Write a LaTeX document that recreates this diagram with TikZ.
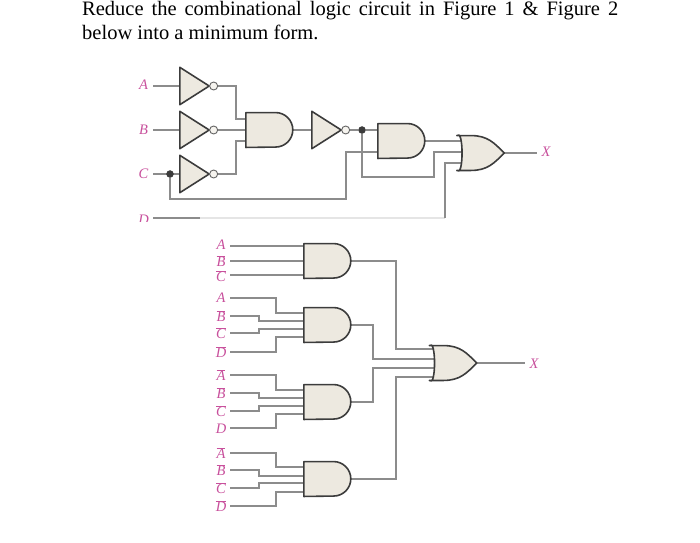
\documentclass[tikz,border=0pt]{standalone}
\usepackage{fontspec}
\setmainfont{Liberation Serif}
\usetikzlibrary{positioning, calc, backgrounds}

\definecolor{gatefill}{HTML}{EDE9E0}
\definecolor{gateedge}{HTML}{3C3C3C}
\definecolor{wiregray}{HTML}{8C8C8C}
\definecolor{labelpink}{HTML}{C8509C}

\tikzset{
  wire/.style={draw=wiregray, line width=1.2pt},
  faintwire/.style={draw=black!10, line width=1.2pt},
  sig/.style={text=labelpink, font=\fontsize{14.5}{14.5}\selectfont\itshape, inner sep=0pt},
  dot/.style={circle, fill=gateedge, draw=gateedge, minimum size=7pt, inner sep=0pt},
  bubble/.style={circle, fill=gatefill!50, draw=gateedge!80, line width=0.9pt, minimum size=8pt, inner sep=0pt},
  gatebox/.style={rectangle, inner sep=0pt, minimum width=#1, minimum height=34.5pt},
  andgate/.style={gatebox=47pt, append after command={\pgfextra{
    \draw[fill=gatefill, draw=gateedge, line width=1.6pt, line join=round]
      (\tikzlastnode.north west) -- ++(29.75pt,0) arc[start angle=90, end angle=-90, radius=17.25pt]
      -- (\tikzlastnode.south west) -- cycle;}}},
  orgate/.style={gatebox=47pt, append after command={\pgfextra{
    \draw[fill=gatefill, draw=gateedge, line width=1.6pt, line join=round]
      (\tikzlastnode.north west) -- ++(14pt,0)
      .. controls +(17pt,0) and +(-10pt,10pt) .. (\tikzlastnode.east)
      .. controls +(-10pt,-10pt) and +(17pt,0) .. ($(\tikzlastnode.south west)+(14pt,0)$)
      -- (\tikzlastnode.south west)
      .. controls +(7pt,-8pt) and +(7pt,8pt) .. cycle;}}},
  notgate/.style={rectangle, inner sep=0pt, minimum width=29pt, minimum height=37pt, append after command={\pgfextra{
    \draw[fill=gatefill, draw=gateedge, line width=1.6pt, line join=round]
      (\tikzlastnode.north west) -- (\tikzlastnode.east) -- (\tikzlastnode.south west) -- cycle;}}}
}

\newcommand{\nb}[1]{$\overline{\mbox{\itshape #1}}$}

\begin{document}
\begin{tikzpicture}[x=1pt, y=-1pt]
\useasboundingbox (0,0) rectangle (700,542);

% Question text
\node[anchor=north west, inner sep=0pt, text width=536pt, align=justify, font=\fontsize{20.5}{24}\selectfont] (question) at (82,1)
  {Reduce the combinational logic circuit in Figure 1 \& Figure 2\linebreak below into a minimum form.};

% Figure 1 labels
\node[sig] (inA) at (143.5,85) {A};
\node[sig] (inB) at (143.5,130) {B};
\node[sig] (inC) at (143.5,174) {C};
\begin{scope}
\clip (130,205) rectangle (160,221);
\node[sig] (inD) at (143.5,219.5) {D};
\end{scope}
\node[sig] (outX) at (546,152) {X};

% Figure 1 gates
\node[notgate] (notA) at (194.5,86) {};
\node[notgate] (notB) at (194.5,130) {};
\node[notgate] (notC) at (194.5,174) {};
\node[bubble, right=0pt of notA] (bubA) {};
\node[bubble, right=0pt of notB] (bubB) {};
\node[bubble, right=0pt of notC] (bubC) {};
\node[andgate] (andOne) at (269.5,130) {};
\node[notgate] (notOut) at (326.5,130) {};
\node[bubble, right=0pt of notOut] (bubOut) {};
\node[andgate] (andTwo) at (401.5,141) {};
\node[orgate] (orOne) at (480.5,153) {};
\node[dot] (dotC) at (170,174) {};
\node[dot] (dotOut) at (362,130) {};
\coordinate (endD) at (445,218);

% Figure 1 wires
\begin{scope}[on background layer]
\draw[wire] (153,86) -- (notA.west);
\draw[wire] (153,130) -- (notB.west);
\draw[wire] (153,174) -- (notC.west);
\draw[wire] (bubA) -| (236,119) -- (250,119);
\draw[wire] (bubB) -- (andOne.center);
\draw[wire] (bubC) -| (236,141) -- (250,141);
\draw[wire] (andOne.center) -- (notOut.center);
\draw[wire] (bubOut) -- (dotOut) -- (andTwo.west |- dotOut);
\draw[wire] (dotC) |- (346,199) |- (andTwo.center |- 0,152);
\draw[wire] (andTwo.center) -- (orOne.center |- andTwo.center);
\draw[wire] (dotOut) |- (434,177) |- (orOne.center |- 0,152);
\draw[faintwire] (200,218) -- (endD);
\draw[wire] (153,218) -- (200,218);
\draw[wire] (endD) |- (orOne.center |- 0,163);
\draw[wire] (orOne.center) -- (537,153);
\end{scope}

% Figure 2 labels
\foreach \nm/\yy/\txt in {a/245/A, b/261/\nb{B}, c/276/\nb{C},
    d/298/A, e/316/\nb{B}, f/333/\nb{C}, g/352/\nb{D},
    h/375/\nb{A}, i/393/\nb{B}, j/411/\nb{C}, k/429/D,
    l/453/\nb{A}, m/470/\nb{B}, n/488/\nb{C}, o/506/\nb{D}}
  \node[sig] (in\nm) at (221,\yy) {\txt};
\node[sig] (outY) at (534,364) {X};

% Figure 2 gates
\node[andgate] (andA) at (327.5,261) {};
\node[andgate] (andB) at (327.5,325) {};
\node[andgate] (andC) at (327.5,402) {};
\node[andgate] (andD) at (327.5,479) {};
\node[orgate] (orTwo) at (453,363) {};

% Figure 2 wires
\begin{scope}[on background layer]
\draw[wire] (230,246) -- (andA.center |- 0,246);
\draw[wire] (230,261) -- (andA.center);
\draw[wire] (230,275) -- (andA.center |- 0,275);
\foreach \gate/\ya/\yb/\yc/\yd/\ia/\ib/\ic/\id in {
    andB/298/316/333/352/313/321/329/337,
    andC/375/393/411/428/390/398/406/414,
    andD/453/470/488/506/467/476/483/492} {
  \draw[wire] (230,\ya) -| (276,\ia) -- (\gate.center |- 0,\ia);
  \draw[wire] (230,\yb) -| (259,\ib) -- (\gate.center |- 0,\ib);
  \draw[wire] (230,\yc) -| (259,\ic) -- (\gate.center |- 0,\ic);
  \draw[wire] (230,\yd) -| (276,\id) -- (\gate.center |- 0,\id);
}
\draw[wire] (andA.center) -| (396,349) -- (orTwo.center |- 0,349);
\draw[wire] (andB.center) -| (373,359) -- (orTwo.center |- 0,359);
\draw[wire] (andC.center) -| (373,368) -- (orTwo.center |- 0,368);
\draw[wire] (andD.center) -| (396,377) -- (orTwo.center |- 0,377);
\draw[wire] (orTwo.center) -- (525,363);
\end{scope}
\end{tikzpicture}
\end{document}
